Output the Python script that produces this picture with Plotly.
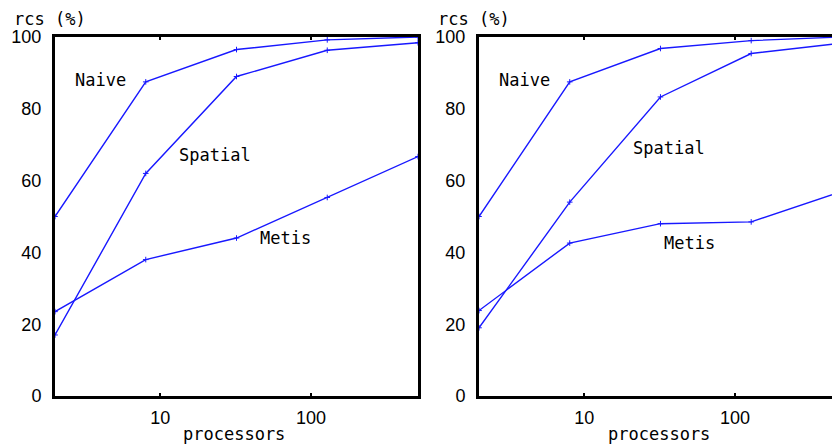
import math
import plotly.graph_objects as go

# number of processors (log-scaled x axis)
procs = [2, 8, 32, 128, 512]

# rcs (%) per partitioning scheme, first experiment
left_naive = [50, 87.5, 96.5, 99.2, 100]
left_spatial = [17, 62, 89, 96.3, 98.4]
left_metis = [23.5, 38, 44, 55.3, 66.7]

# rcs (%) per partitioning scheme, second experiment
right_naive = [50, 87.5, 96.8, 99, 100]
right_spatial = [19, 54, 83.3, 95.4, 98.3]
right_metis = [23.8, 42.6, 48, 48.5, 57]

y_ticks = [0, 20, 40, 60, 80, 100]
x_ticks = [10, 100]
x_tick_text = ["10", "100"]

W, H = 832, 448
BLUE = "#1818ff"
MONO = "DejaVu Sans Mono, monospace"
SANS = "Liberation Sans, Arial, sans-serif"

fig = go.Figure()

series = [
    ("x", "y", left_naive, left_spatial, left_metis),
    ("x2", "y2", right_naive, right_spatial, right_metis),
]
for xa, ya, nv, sp, me in series:
    for name, vals in (("Naive", nv), ("Spatial", sp), ("Metis", me)):
        fig.add_trace(go.Scatter(
            x=procs, y=vals, name=name, xaxis=xa, yaxis=ya,
            mode="lines+markers",
            line=dict(color=BLUE, width=1.4),
            marker=dict(symbol="cross-thin", size=4,
                        line=dict(color=BLUE, width=1)),
            showlegend=False,
        ))

# panel placement in pixels
px_per_decade = 150.7
lo = math.log10(2)
hi_left = math.log10(512)
left_dom = (55, 418)
right_dom = (479, 832)
hi_right = lo + (right_dom[1] - right_dom[0]) / px_per_decade
y_dom = ((H - 396) / H, (H - 37) / H)

xcommon = dict(
    type="log", tickvals=x_ticks, ticktext=x_tick_text,
    ticks="inside", ticklen=3, tickwidth=2, tickcolor="black",
    showline=True, linewidth=3, linecolor="black",
    showgrid=False, zeroline=False,
    tickfont=dict(family=SANS, size=18, color="black"),
    ticklabelstandoff=3, automargin=False,
)
ycommon = dict(
    range=[0, 100], tickvals=y_ticks, ticks="",
    showline=True, linewidth=3, linecolor="black",
    showgrid=False, zeroline=False,
    tickfont=dict(family=SANS, size=18, color="black"),
    ticklabelstandoff=7, automargin=False, domain=list(y_dom),
)

fig.update_layout(
    width=W, height=H,
    margin=dict(l=0, r=0, t=0, b=0),
    paper_bgcolor="white", plot_bgcolor="white",
    xaxis=dict(xcommon, domain=[left_dom[0] / W, left_dom[1] / W],
               range=[lo, hi_left], mirror="ticks", anchor="y"),
    yaxis=dict(ycommon, mirror=True, anchor="x"),
    xaxis2=dict(xcommon, domain=[right_dom[0] / W, right_dom[1] / W],
                range=[lo, hi_right], mirror="ticks", anchor="y2"),
    yaxis2=dict(ycommon, mirror=False, anchor="x2"),
)

# curve labels
labels = [
    ("x", "y", "Naive", 4.0, 88),
    ("x", "y", "Spatial", 22.9, 67),
    ("x", "y", "Metis", 68, 44),
    ("x2", "y2", "Naive", 4.0, 88),
    ("x2", "y2", "Spatial", 36.5, 69),
    ("x2", "y2", "Metis", 50, 42.6),
]
for xr, yr, txt, xv, yv in labels:
    fig.add_annotation(
        x=math.log10(xv), y=yv, xref=xr, yref=yr, text=txt,
        showarrow=False, font=dict(family=MONO, size=17, color="black"),
    )

# y-axis label above each panel and x-axis label below
for x_px in (50, 474):
    fig.add_annotation(
        x=x_px / W, y=(H - 19) / H, xref="paper", yref="paper",
        text="rcs (%)", showarrow=False, xanchor="center", yanchor="middle",
        font=dict(family=MONO, size=17, color="black"),
    )
for x_px in (234, 659):
    fig.add_annotation(
        x=x_px / W, y=(H - 434) / H, xref="paper", yref="paper",
        text="processors", showarrow=False, xanchor="center", yanchor="middle",
        font=dict(family=MONO, size=17, color="black"),
    )

fig.write_html("out.html")
